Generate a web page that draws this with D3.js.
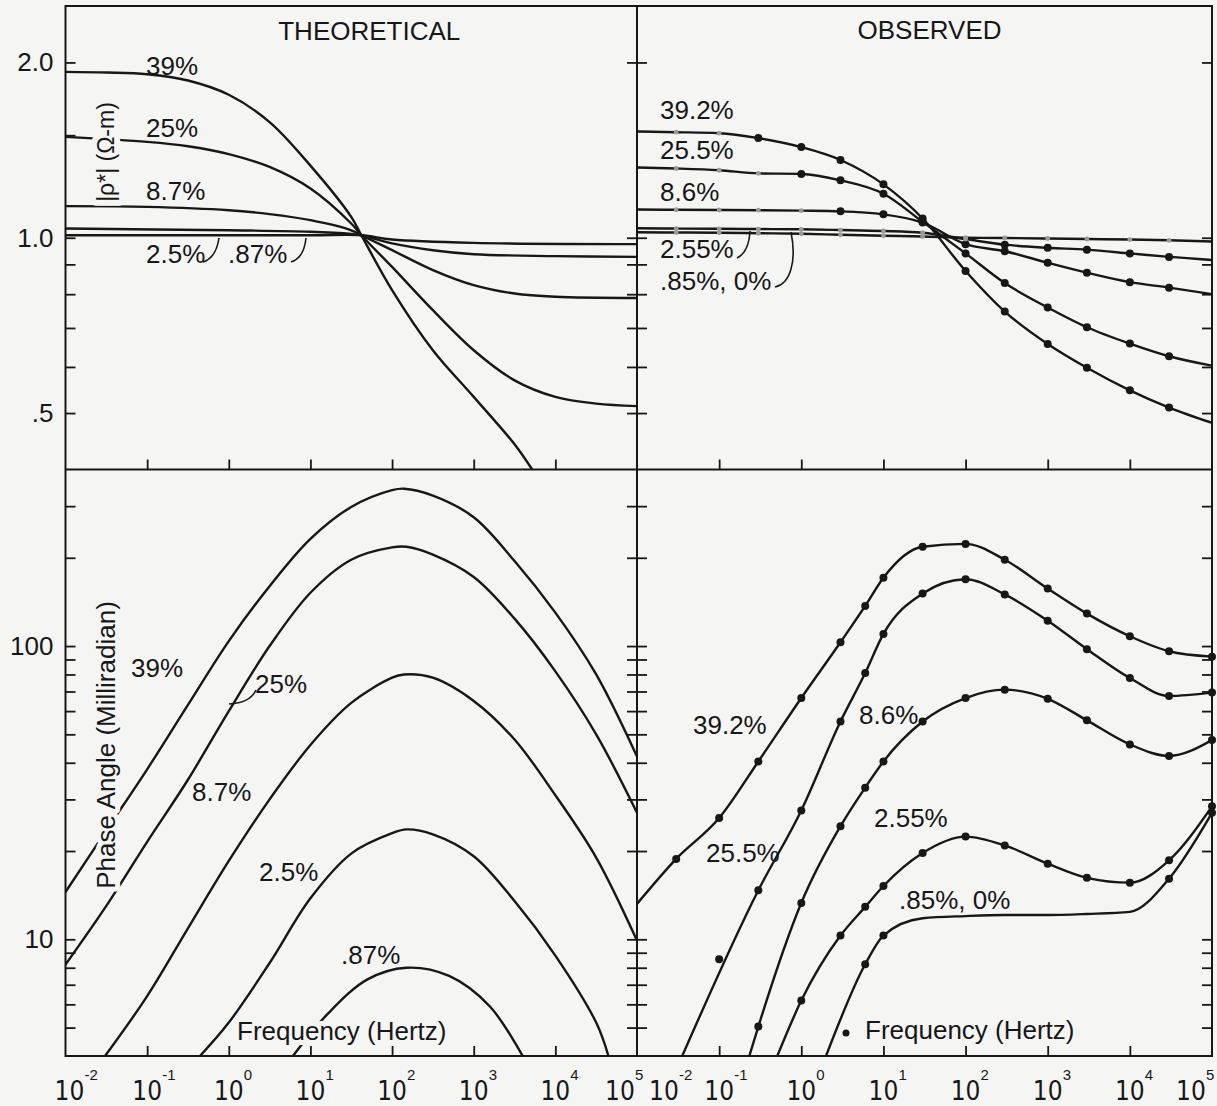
<!DOCTYPE html>
<html>
<head>
<meta charset="utf-8">
<script src="https://cdn.jsdelivr.net/npm/d3@7"></script>
<style>
  html, body { margin: 0; padding: 0; background: #f5f5f4; }
  svg text { font-family: "Liberation Sans", Arial, Helvetica, sans-serif; fill: #171717; }
  svg text.xt { font-family: "Liberation Sans Narrow", "DejaVu Sans Condensed", "Arial Narrow", sans-serif; }
</style>
</head>
<body>
<svg id="chart" width="1217" height="1106"></svg>
<script>
// ---------------------------------------------------------------
// Complex resistivity spectra: amplitude |rho*| and phase angle
// versus frequency, theoretical model vs. laboratory observation,
// one curve per volume percentage of conductive grains.
// ---------------------------------------------------------------

// Theoretical amplitude, normalised |rho*| (ohm-m), [frequency Hz, value]
const thAmp39  = [[0.01,1.927],[0.0316,1.922],[0.1,1.909],[0.316,1.862],[1,1.76],[3.16,1.58],[10,1.33],[31.6,1.086],[42,1.01],[100,0.813],[316,0.641],[1000,0.533],[3162,0.442],[5200,0.4]];
const thAmp25  = [[0.01,1.49],[0.1,1.461],[0.316,1.436],[1,1.392],[3.16,1.323],[10,1.215],[31.6,1.058],[42,1.01],[100,0.891],[316,0.751],[1000,0.641],[3162,0.569],[1e4,0.533],[31623,0.519],[1e5,0.514]];
const thAmp8_7 = [[0.01,1.133],[0.1,1.13],[1,1.115],[3.16,1.098],[10,1.072],[31.6,1.03],[42,1.01],[100,0.952],[316,0.88],[1000,0.829],[3162,0.802],[1e4,0.792],[1e5,0.788]];
const thAmp2_5 = [[0.01,1.037],[1,1.03],[10,1.024],[31.6,1.015],[42,1.01],[100,0.978],[316,0.952],[1000,0.937],[1e4,0.93],[1e5,0.927]];
const thAmp087 = [[0.01,1.01],[10,1.01],[42,1.01],[100,0.993],[1000,0.98],[1e5,0.975]];

// Theoretical phase angle (milliradian), [frequency Hz, value]
const thPh39  = [[0.01,14.5],[0.0316,23.5],[0.1,38],[0.316,63],[1,104],[3.16,160],[10,232],[31.6,298],[100,340],[140,344],[316,326],[1000,275],[3162,195],[1e4,130],[31623,80],[1e5,42]];
const thPh25  = [[0.01,8.2],[0.0316,13],[0.1,21.5],[0.316,35],[1,60],[3.16,100],[10,152],[31.6,197],[100,217],[150,218],[316,205],[1000,172],[3162,124],[1e4,82],[31623,50],[1e5,27]];
const thPh8_7 = [[0.0305,4],[0.1,6.4],[0.316,10.9],[1,18.5],[3.16,30],[10,46],[31.6,64],[100,78],[140,80],[316,78],[1000,65],[3162,48],[1e4,31],[31623,19],[1e5,9.9]];
const thPh2_5 = [[0.444,4],[1,5.2],[3.16,8.3],[10,13.8],[31.6,19.6],[100,23],[150,23.7],[316,22.8],[1000,19.2],[3162,13.5],[1e4,8.8],[31623,5.2],[44700,4]];
const thPh087 = [[6.1,4],[16.6,5.6],[50,7.3],[150,8.0],[500,7.5],[1580,5.9],[3980,4]];

// Observed amplitude: first column is where the curve starts (no marker)
const ampFreq     = [0.01, 0.03, 0.1, 0.3, 1, 3, 10, 30, 100, 300, 1000, 3000, 1e4, 3e4, 1e5];
const obsAmp39_2  = [1.522, 1.518, 1.512, 1.483, 1.431, 1.36, 1.235, 1.079, 0.877, 0.747, 0.657, 0.598, 0.547, 0.511, 0.481];
const obsAmp25_5  = [1.32, 1.315, 1.306, 1.29, 1.287, 1.255, 1.19, 1.065, 0.94, 0.836, 0.759, 0.702, 0.658, 0.626, 0.603];
const obsAmp8_6   = [1.118, 1.117, 1.116, 1.115, 1.113, 1.11, 1.097, 1.062, 0.975, 0.948, 0.906, 0.871, 0.839, 0.821, 0.80];
const obsAmp2_55  = [1.038, 1.037, 1.036, 1.035, 1.034, 1.031, 1.027, 1.02, 0.995, 0.973, 0.961, 0.954, 0.94, 0.927, 0.916];
const obsAmp0_85  = [1.022, 1.021, 1.02, 1.018, 1.016, 1.012, 1.008, 1.005, 1.0, 0.999, 0.997, 0.995, 0.993, 0.99, 0.985];
// lowest frequency at which a series' amplitude marker is drawn solid
const obsAmpSolidFrom = [0.3, 1, 3, 300, Infinity];

// Observed phase angle (milliradian) at the measured frequencies
const obsFreq    = [0.03, 0.1, 0.3, 1, 3, 6, 10, 30, 100, 300, 1000, 3000, 1e4, 3e4, 1e5];
const obsPh39_2  = [18.8, 25.9, 40.4, 66.5, 103, 137, 171, 218, 223, 197, 157, 129, 108, 96, 92];
const obsPh25_5  = [null, 8.55, 14.7, 27.5, 55.3, 80.9, 110, 151, 169, 150, 122, 97.6, 77.8, 67.6, 69.4];
const obsPh8_6   = [null, null, 5.04, 13.3, 24.3, 32.9, 40.4, 55.3, 66.5, 71.0, 66.1, 55.8, 46.2, 42.2, 47.8];
const obsPh2_55  = [null, null, null, 6.18, 10.3, 12.9, 15.2, 19.7, 22.4, 20.9, 18.1, 16.2, 15.6, 18.6, 28.4];
const obsPh0_85  = [null, null, null, null, null, 8.22, 10.3, 11.8, 12.0, 12.1, 12.1, 12.2, 12.4, 16.1, 27];
// where each fitted curve enters the panel
const obsPhEntryF = [0.01, 0.0355, 0.233, 0.51, 2.0];
const obsPhEntryV = [13.2, 4, 4, 4, 4];
// markers lying off the fitted curve, and curve points without a marker
const obsPhOffCurve = [[], [1], [], [], []];
const obsPhNoMarker = [[], [], [], [], [7, 8, 9, 10, 11, 12]];

// Axis ticks
const decades      = [-2, -1, 0, 1, 2, 3, 4, 5];
const ampTicks     = [2.0, 1.0, 0.9, 0.8, 0.7, 0.6, 0.5];
const ampTicksLeft = [2.0, 1.5, 1.0, 0.9, 0.8, 0.7, 0.6, 0.5];
const ampTickVals  = [2.0, 1.0, 0.5];
const ampTickText  = ["2.0", "1.0", ".5"];
const phTicks      = [300, 200, 100, 90, 80, 70, 60, 50, 40, 30, 20, 10, 9, 8, 7, 6, 5];
const phTickVals   = [100, 10];
const phTickText   = ["100", "10"];

// ---------------------------------------------------------------
const ink = "#171717";
const bg = "#f5f5f4";
const L = 65.5, M = 637, R = 1212, T = 6, S = 469.5, B = 1056;

const xTheo  = d3.scaleLog().domain([1e-2, 1e5]).range([L, M]);
const xObs   = d3.scaleLog().domain([1e-2, 1e5]).range([M, R]);
const yAmp   = d3.scaleLog().domain([0.4, 2.5]).range([S, T]);
const yPhase = d3.scaleLog().domain([4, 400]).range([B, S]);

const svg = d3.select("#chart");
const defs = svg.append("defs");
function clip(id, x0, y0, x1, y1) {
  defs.append("clipPath").attr("id", id).append("rect")
    .attr("x", x0).attr("y", y0).attr("width", x1 - x0).attr("height", y1 - y0);
  return `url(#${id})`;
}
const clipTL = clip("clip-tl", L, T, M, S);
const clipTR = clip("clip-tr", M, T, R, S);
const clipBL = clip("clip-bl", L, S, M, B);
const clipBR = clip("clip-br", M, S, R, B);

const curveLayer = svg.append("g");
const dotLayer = svg.append("g");
const textLayer = svg.append("g");
const axisLayer = svg.append("g");

function drawCurve(pts, x, y, clipUrl, curve) {
  curveLayer.append("path").datum(pts)
    .attr("clip-path", clipUrl)
    .attr("fill", "none").attr("stroke", ink).attr("stroke-width", 2.4)
    .attr("stroke-linejoin", "round").attr("stroke-linecap", "round")
    .attr("d", d3.line().x(d => x(d[0])).y(d => y(d[1])).curve(curve || d3.curveMonotoneX));
}
function drawDots(pts, x, y, r, fill) {
  dotLayer.selectAll(null).data(pts).enter().append("circle")
    .attr("cx", d => x(d[0])).attr("cy", d => y(d[1]))
    .attr("r", r).attr("fill", fill);
}
const smooth = d3.curveCatmullRom.alpha(0.5);

// Theoretical amplitude
[thAmp39, thAmp25, thAmp8_7, thAmp2_5, thAmp087].forEach(s => drawCurve(s, xTheo, yAmp, clipTL, smooth));
// Theoretical phase
[thPh39, thPh25, thPh8_7, thPh2_5, thPh087].forEach(s => drawCurve(s, xTheo, yPhase, clipBL, smooth));

// Observed amplitude
[obsAmp39_2, obsAmp25_5, obsAmp8_6, obsAmp2_55, obsAmp0_85].forEach((vals, k) => {
  const pts = ampFreq.map((f, i) => [f, vals[i]]);
  drawCurve(pts, xObs, yAmp, clipTR);
  const marks = pts.slice(1, pts.length - 1);
  drawDots(marks.filter(d => d[0] < obsAmpSolidFrom[k]), xObs, yAmp, 2.4, "#9a9a9a");
  drawDots(marks.filter(d => d[0] >= obsAmpSolidFrom[k]), xObs, yAmp, 4, ink);
});

// Observed phase
[obsPh39_2, obsPh25_5, obsPh8_6, obsPh2_55, obsPh0_85].forEach((vals, k) => {
  const pts = obsFreq.map((f, i) => ({ f, v: vals[i], i })).filter(d => d.v != null);
  const line = [[obsPhEntryF[k], obsPhEntryV[k]]]
    .concat(pts.filter(d => !obsPhOffCurve[k].includes(d.i)).map(d => [d.f, d.v]));
  drawCurve(line, xObs, yPhase, clipBR);
  drawDots(pts.filter(d => !obsPhNoMarker[k].includes(d.i)).map(d => [d.f, d.v]), xObs, yPhase, 4, ink);
});

// ---------------------------------------------------------------
// Text
function label(txt, x, y, opts = {}) {
  const t = textLayer.append("text")
    .attr("x", x).attr("y", y)
    .attr("font-size", opts.size || 26)
    .attr("text-anchor", opts.anchor || (opts.rotate ? "middle" : "start"))
    .attr("dominant-baseline", "central")
    .text(txt);
  if (opts.rotate) t.attr("transform", `rotate(-90,${x},${y})`);
  if (opts.halo) {
    t.attr("stroke", bg).attr("stroke-width", opts.halo)
      .attr("stroke-linejoin", "round").attr("paint-order", "stroke");
  }
  return t;
}
function leader(d) {
  textLayer.append("path").attr("d", d).attr("fill", "none")
    .attr("stroke", ink).attr("stroke-width", 1.6);
}

label("THEORETICAL", (L + M) / 2 + 18, 31, { anchor: "middle" });
label("OBSERVED", (M + R) / 2 + 5, 30, { anchor: "middle" });

// theoretical amplitude
label("39%", 146, 66);
label("25%", 146, 128);
label("8.7%", 146, 191);
label("2.5%", 146, 254);
label(".87%", 228, 254);
leader("M203,262 Q216,258 219,238");
leader("M291,262 Q304,258 306,238");
label("|\u03C1*| (\u03A9-m)", 106, 152, { size: 23, rotate: true, halo: 12 });

// observed amplitude
label("39.2%", 660, 110);
label("25.5%", 660, 150);
label("8.6%", 660, 192);
label("2.55%", 660, 249);
label(".85%, 0%", 660, 281);
leader("M737,258 Q749,252 750,231");
leader("M775,287 C790,284 797,262 791,232");

// theoretical phase
label("39%", 131, 668);
label("25%", 255, 684);
leader("M256,690 Q250,703 229,704");
label("8.7%", 192, 792);
label("2.5%", 259, 872);
label(".87%", 341, 955);
label("Frequency (Hertz)", 237, 1031, { halo: 10 });
label("Phase Angle (Milliradian)", 106, 745, { rotate: true, halo: 10 });

// observed phase
label("39.2%", 693, 725);
label("8.6%", 859, 715);
label("25.5%", 706, 853);
label("2.55%", 874, 818);
label(".85%, 0%", 899, 900);
textLayer.append("circle").attr("cx", 846).attr("cy", 1033).attr("r", 3.5).attr("fill", ink);
label("Frequency (Hertz)", 865, 1030);

// ---------------------------------------------------------------
// Axes and frame
function styleAxis(g) {
  g.select(".domain").remove();
  g.attr("font-size", 26).attr("font-family", null).attr("color", ink);
  g.selectAll("line").attr("stroke-width", 1.8);
}
function yAxes(y, ticks, leftTicks, vals, texts) {
  axisLayer.append("g").attr("transform", `translate(${L},0)`)
    .call(d3.axisLeft(y).tickValues(leftTicks).tickSizeInner(-10).tickSizeOuter(0).tickPadding(12)
      .tickFormat(v => { const i = vals.indexOf(v); return i >= 0 ? texts[i] : ""; }))
    .call(styleAxis);
  axisLayer.append("g").attr("transform", `translate(${M},0)`)
    .call(d3.axisLeft(y).tickValues(ticks).tickSize(10).tickFormat("")).call(styleAxis);
  axisLayer.append("g").attr("transform", `translate(${M},0)`)
    .call(d3.axisRight(y).tickValues(ticks).tickSize(10).tickFormat("")).call(styleAxis);
  axisLayer.append("g").attr("transform", `translate(${R},0)`)
    .call(d3.axisLeft(y).tickValues(ticks).tickSize(10).tickFormat("")).call(styleAxis);
}
yAxes(yAmp, ampTicks, ampTicksLeft, ampTickVals, ampTickText);
yAxes(yPhase, phTicks, phTicks, phTickVals, phTickText);

const innerDecades = decades.slice(1, -1).map(d => Math.pow(10, d));
[xTheo, xObs].forEach(x => {
  [S, B].forEach(yPos => {
    axisLayer.append("g").attr("transform", `translate(0,${yPos})`)
      .call(d3.axisBottom(x).tickValues(innerDecades).tickSizeInner(-10).tickSizeOuter(0).tickFormat(""))
      .call(styleAxis);
  });
});

// decade labels written as 10 with a raised exponent
function decadeLabels(x, firstShift, lastShift) {
  decades.forEach((d, i) => {
    const shift = i === 0 ? firstShift : (i === decades.length - 1 ? lastShift : 0);
    const cx = x(Math.pow(10, d)) + shift;
    axisLayer.append("text").attr("class", "xt")
      .attr("x", cx).attr("y", 1100).attr("font-size", 26)
      .attr("text-anchor", "middle").text("10");
    axisLayer.append("text")
      .attr("x", cx + 15).attr("y", 1080).attr("font-size", 15)
      .text(d < 0 ? "-" + Math.abs(d) : String(d));
  });
}
decadeLabels(xTheo, 4, -17);
decadeLabels(xObs, 27, -21);

// panel frame
axisLayer.append("rect").attr("x", L).attr("y", T).attr("width", R - L).attr("height", B - T)
  .attr("fill", "none").attr("stroke", ink).attr("stroke-width", 2);
axisLayer.append("line").attr("x1", M).attr("x2", M).attr("y1", T).attr("y2", B)
  .attr("stroke", ink).attr("stroke-width", 2);
axisLayer.append("line").attr("x1", L).attr("x2", R).attr("y1", S).attr("y2", S)
  .attr("stroke", ink).attr("stroke-width", 2);
</script>
</body>
</html>
